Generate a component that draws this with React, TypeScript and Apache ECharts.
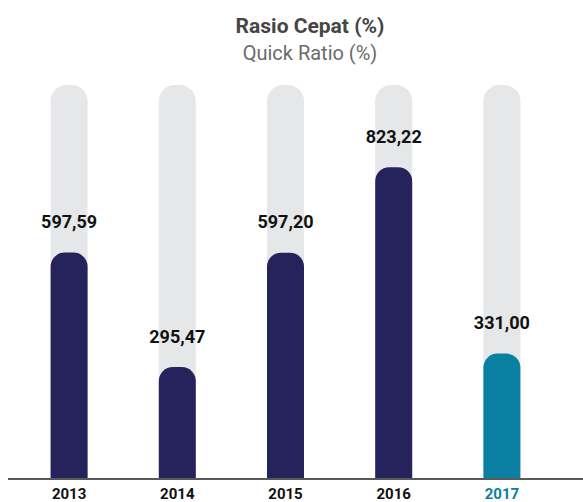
import React, { useEffect, useRef } from "react";
import * as echarts from "echarts";

const years = ["2013", "2014", "2015", "2016", "2017"];
const quickRatio = [597.59, 295.47, 597.2, 823.22, 331.0];
const valueLabels = ["597,59", "295,47", "597,20", "823,22", "331,00"];
const backgroundMax = 1040;
const titleText = "Rasio Cepat (%)";
const subtitleText = "Quick Ratio (%)";

const NAVY = "#26235c";
const TEAL = "#0b7fa1";
const TRACK = "#e6e7e8";

export default function App() {
  const ref = useRef<HTMLDivElement>(null);
  useEffect(() => {
    if (!ref.current) return;
    const chart = echarts.init(ref.current, undefined, { renderer: "svg" });
    const last = years.length - 1;
    chart.setOption({
      animation: false,
      grid: { left: 15, right: 27, top: 85, bottom: 23, containLabel: false },
      title: [
        {
          text: titleText,
          left: 305,
          top: 10,
          textAlign: "center",
          textStyle: { fontFamily: "Roboto", fontWeight: "bold", fontSize: 21, color: "#454545" },
        },
        {
          text: subtitleText,
          left: 305,
          top: 38,
          textAlign: "center",
          textStyle: { fontFamily: "Roboto", fontWeight: "normal", fontSize: 20, color: "#6b6b6b" },
        },
      ],
      xAxis: {
        type: "category",
        data: years.map((y, i) => ({
          value: y,
          textStyle: { color: i === last ? TEAL : "#111111" },
        })),
        axisLine: { show: false },
        axisTick: { show: false },
        axisLabel: {
          fontFamily: "Roboto",
          fontWeight: "bold",
          fontSize: 15,
          margin: 7,
        },
      },
      yAxis: { type: "value", min: 0, max: backgroundMax, show: false },
      series: [
        {
          type: "bar",
          data: years.map(() => backgroundMax),
          barWidth: 37,
          barGap: "-100%",
          itemStyle: { color: TRACK, borderRadius: [16, 16, 0, 0] },
          silent: true,
          z: 1,
        },
        {
          type: "bar",
          data: quickRatio.map((v, i) => ({
            value: v,
            itemStyle: { color: i === last ? TEAL : NAVY },
          })),
          barWidth: 37,
          itemStyle: { borderRadius: [14, 14, 0, 0] },
          label: {
            show: true,
            position: "top",
            distance: 22,
            formatter: (p: any) => valueLabels[p.dataIndex],
            fontFamily: "Roboto",
            fontWeight: "bold",
            fontSize: 18,
            color: "#111111",
          },
          z: 2,
        },
      ],
      graphic: [
        {
          type: "line",
          shape: { x1: 8, y1: 479, x2: 583, y2: 479 },
          style: { stroke: "#58595b", lineWidth: 2 },
          z: 10,
        },
      ],
    });
    return () => chart.dispose();
  }, []);
  return (
    <div
      ref={ref}
      style={{ position: "fixed", left: 0, top: 0, width: 583, height: 502, background: "#ffffff" }}
    />
  );
}
